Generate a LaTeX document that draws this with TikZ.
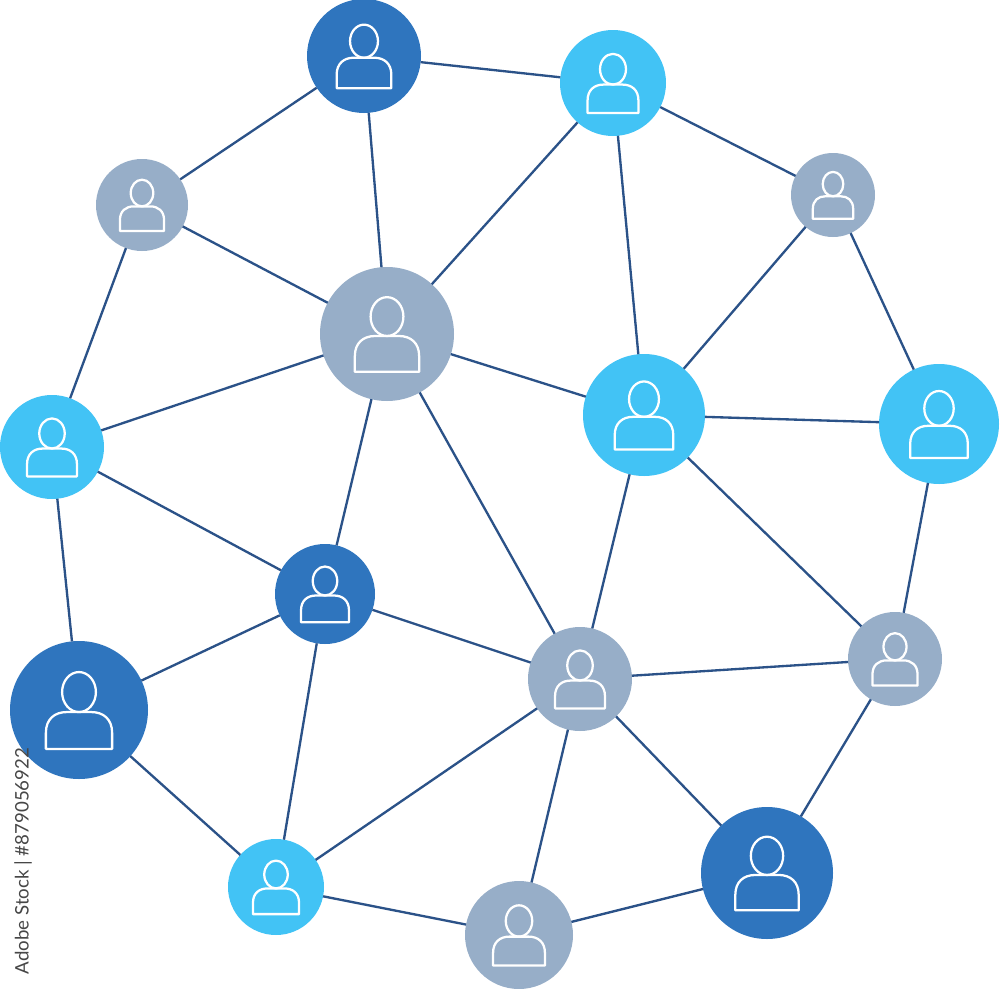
\documentclass[tikz,border=0pt]{standalone}
\usepackage{fontspec}
\setmainfont{Lato}
\definecolor{dk}{HTML}{2F75BE}
\definecolor{lt}{HTML}{42C3F5}
\definecolor{gy}{HTML}{97AEC8}
\definecolor{ln}{HTML}{2B5288}
\tikzset{
  member/.style={circle,inner sep=0pt,outer sep=0pt,draw=none},
  link/.style={draw=ln,line width=1.75pt},
  icon/.style={draw=white,line width=1.7pt,line join=round},
  stamp/.style={rotate=90,text=black!72,font=\fontsize{14}{16}\selectfont,inner sep=0pt}
}
% name, x, y, radius, colour
\newcommand{\member}[5]{%
  \node[member,fill=#5,minimum size=#4*1.5pt] (#1) at (#2,#3) {};
  \begin{scope}[shift={(#2,#3)},x=#4*0.75pt,y=-#4*0.75pt]
    \draw[icon] (0,-.26) ellipse [x radius=.245,y radius=.29];
    \draw[icon] (-.48,.565) -- (-.48,.33)
      .. controls (-.48,.13) and (-.35,.03) .. (-.18,.03)
      -- (.18,.03)
      .. controls (.35,.03) and (.48,.13) .. (.48,.33)
      -- (.48,.565) -- cycle;
  \end{scope}}
\begin{document}
\begin{tikzpicture}[x=0.75pt,y=-0.75pt]
\useasboundingbox (0,0) rectangle (1000,989);
\fill[white] (0,0) rectangle (1000,989);
\member{a}{364}{56}{57}{dk}
\member{b}{613}{83}{53}{lt}
\member{c}{142}{205}{46}{gy}
\member{d}{833}{195}{42}{gy}
\member{e}{387}{334}{67}{gy}
\member{f}{644}{415}{61}{lt}
\member{g}{939}{424}{60}{lt}
\member{h}{52}{447}{52}{lt}
\member{i}{325}{594}{50}{dk}
\member{j}{895}{659}{47}{gy}
\member{k}{580}{679}{52}{gy}
\member{l}{79}{710}{69}{dk}
\member{m}{767}{873}{66}{dk}
\member{n}{276}{887}{48}{lt}
\member{o}{519}{935}{54}{gy}
\foreach \p/\q in {a/b,a/c,a/e,b/e,b/f,b/d,d/f,d/g,c/e,c/h,e/h,e/f,e/i,e/k,f/g,f/k,f/j,g/j,h/i,h/l,i/l,i/k,i/n,k/j,k/n,k/o,k/m,j/m,l/n,n/o,o/m}
  \draw[link] (\p) -- (\q);
\node[stamp] (label) at (23,861) {Adobe Stock | \#879056922};
\end{tikzpicture}
\end{document}
